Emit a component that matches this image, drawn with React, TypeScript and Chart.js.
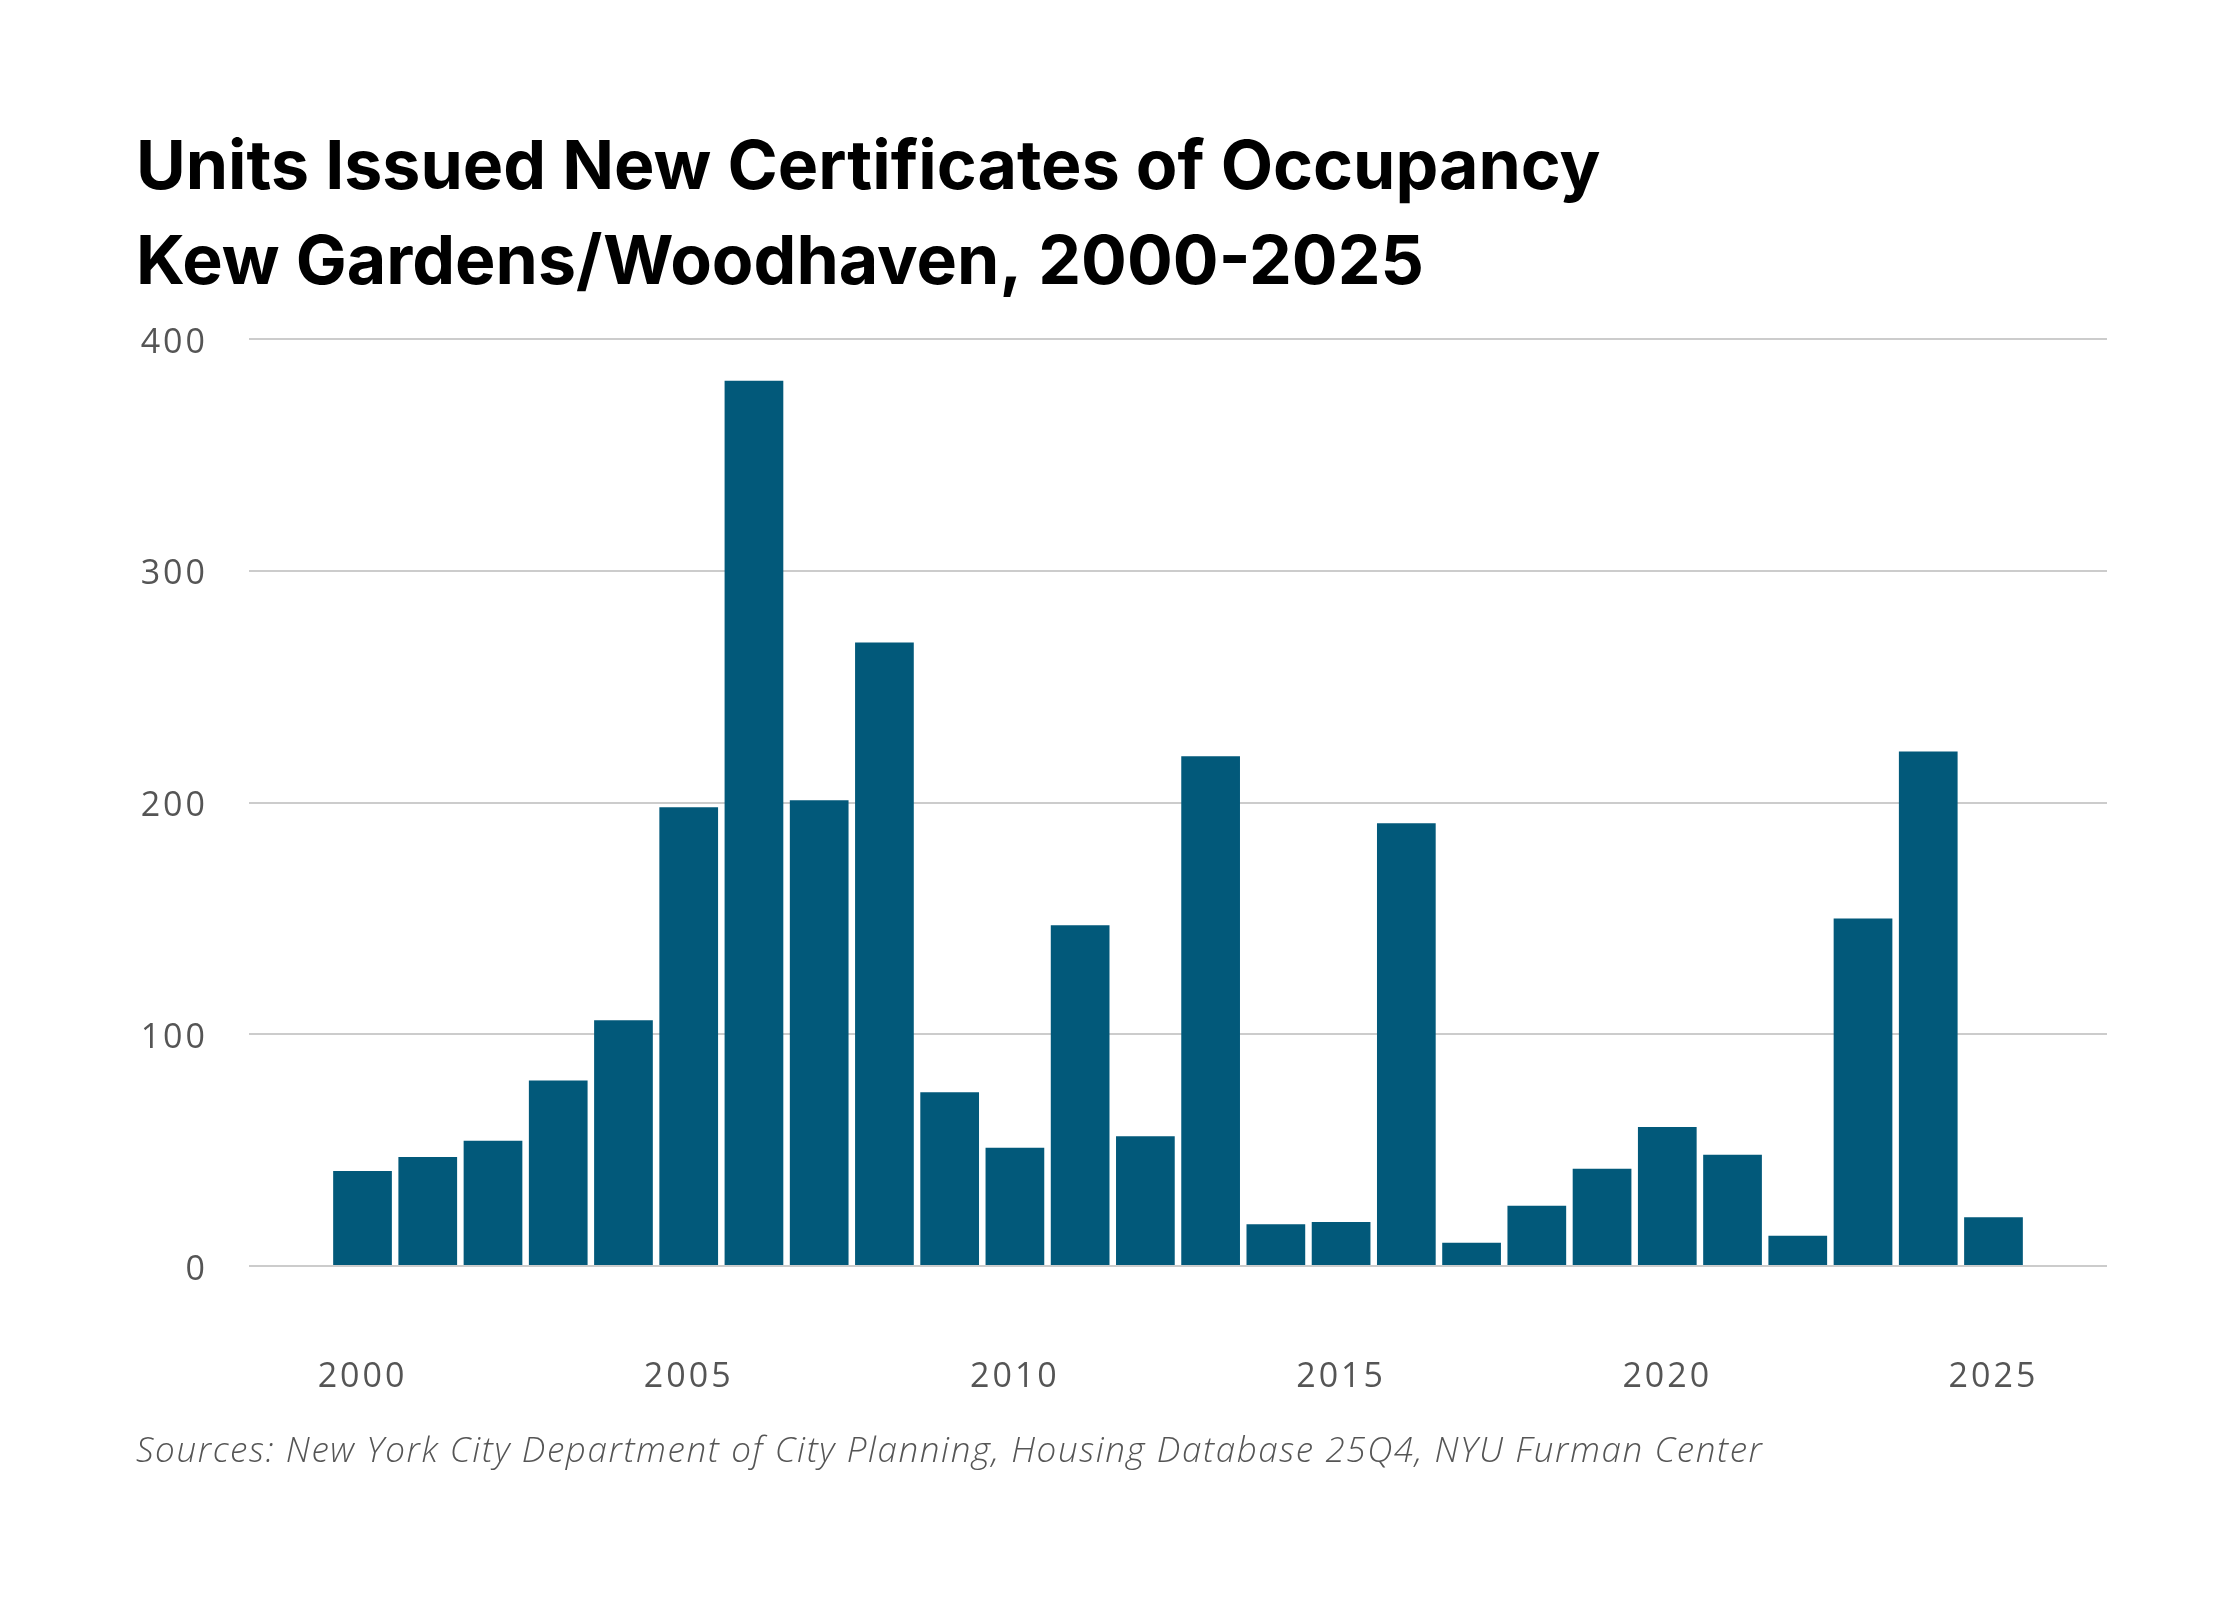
import { useEffect, useRef } from "react";
import Chart from "chart.js/auto";

const years = [
  2000, 2001, 2002, 2003, 2004, 2005, 2006, 2007, 2008, 2009, 2010, 2011, 2012,
  2013, 2014, 2015, 2016, 2017, 2018, 2019, 2020, 2021, 2022, 2023, 2024, 2025,
];
const units = [
  41, 47, 54, 80, 106, 198, 382, 201, 269, 75, 51, 147, 56, 220, 18, 19, 191,
  10, 26, 42, 60, 48, 13, 150, 222, 21,
];
const tickYears = [2000, 2005, 2010, 2015, 2020, 2025];
const titleLines = [
  "Units Issued New Certificates of Occupancy",
  "Kew Gardens/Woodhaven, 2000-2025",
];
const sourceText =
  "Sources: New York City Department of City Planning, Housing Database 25Q4, NYU Furman Center";

const BAR_COLOR = "#02597a";
const TICK_FONT = "'Open Sans', sans-serif";

// title + source line drawn straight onto the canvas,
// and a bit of letter spacing for the (wide) tick labels
const headerFooter = {
  id: "headerFooter",
  beforeDraw(chart: Chart) {
    (chart.ctx as any).letterSpacing = "3px";
  },
  afterDraw(chart: Chart) {
    const ctx = chart.ctx;
    ctx.save();
    (ctx as any).letterSpacing = "0px";
    ctx.textAlign = "left";
    ctx.textBaseline = "alphabetic";
    ctx.fillStyle = "#000";
    ctx.font = "700 68px Inter, sans-serif";
    titleLines.forEach((line, i) => ctx.fillText(line, 136, 189 + i * 95));
    ctx.fillStyle = "#555";
    (ctx as any).letterSpacing = "1.6px";
    ctx.font = "italic 300 35px 'Open Sans', sans-serif";
    ctx.fillText(sourceText, 136, 1462);
    ctx.restore();
    (ctx as any).letterSpacing = "0px";
  },
};

export default function App() {
  const canvasRef = useRef<HTMLCanvasElement>(null);

  useEffect(() => {
    if (!canvasRef.current) return;

    const chart = new Chart(canvasRef.current, {
      type: "bar",
      data: {
        datasets: [
          {
            data: years.map((y, i) => ({ x: y, y: units[i] })),
            backgroundColor: BAR_COLOR,
            borderWidth: 0,
            barPercentage: 0.9,
            categoryPercentage: 1,
          },
        ],
      },
      options: {
        responsive: true,
        maintainAspectRatio: false,
        animation: false,
        layout: {
          padding: { left: 136, right: 133, top: 339, bottom: 200 },
        },
        plugins: {
          legend: { display: false },
          tooltip: { enabled: false },
        },
        scales: {
          x: {
            type: "linear",
            offset: false,
            min: 1998.26,
            max: 2026.74,
            grid: { display: false },
            border: { display: false },
            afterBuildTicks: (scale) => {
              scale.ticks = tickYears.map((v) => ({ value: v }));
            },
            afterFit: (scale) => {
              scale.height = 134;
            },
            ticks: {
              padding: 83,
              color: "#555",
              font: { family: TICK_FONT, size: 34 },
              maxRotation: 0,
              callback: (v) => String(v),
            },
          },
          y: {
            min: 0,
            max: 400,
            grid: { color: "#cccccc", lineWidth: 2, drawTicks: false },
            border: { display: false },
            afterFit: (scale) => {
              scale.width = 113;
            },
            ticks: {
              stepSize: 100,
              padding: 41,
              labelOffset: 4,
              color: "#555",
              font: { family: TICK_FONT, size: 34 },
            },
          },
        },
      },
      plugins: [headerFooter],
    });

    return () => chart.destroy();
  }, []);

  return (
    <div
      style={{
        position: "fixed",
        left: 0,
        top: 0,
        width: "2240px",
        height: "1600px",
        background: "#fff",
      }}
    >
      <canvas ref={canvasRef}></canvas>
    </div>
  );
}
